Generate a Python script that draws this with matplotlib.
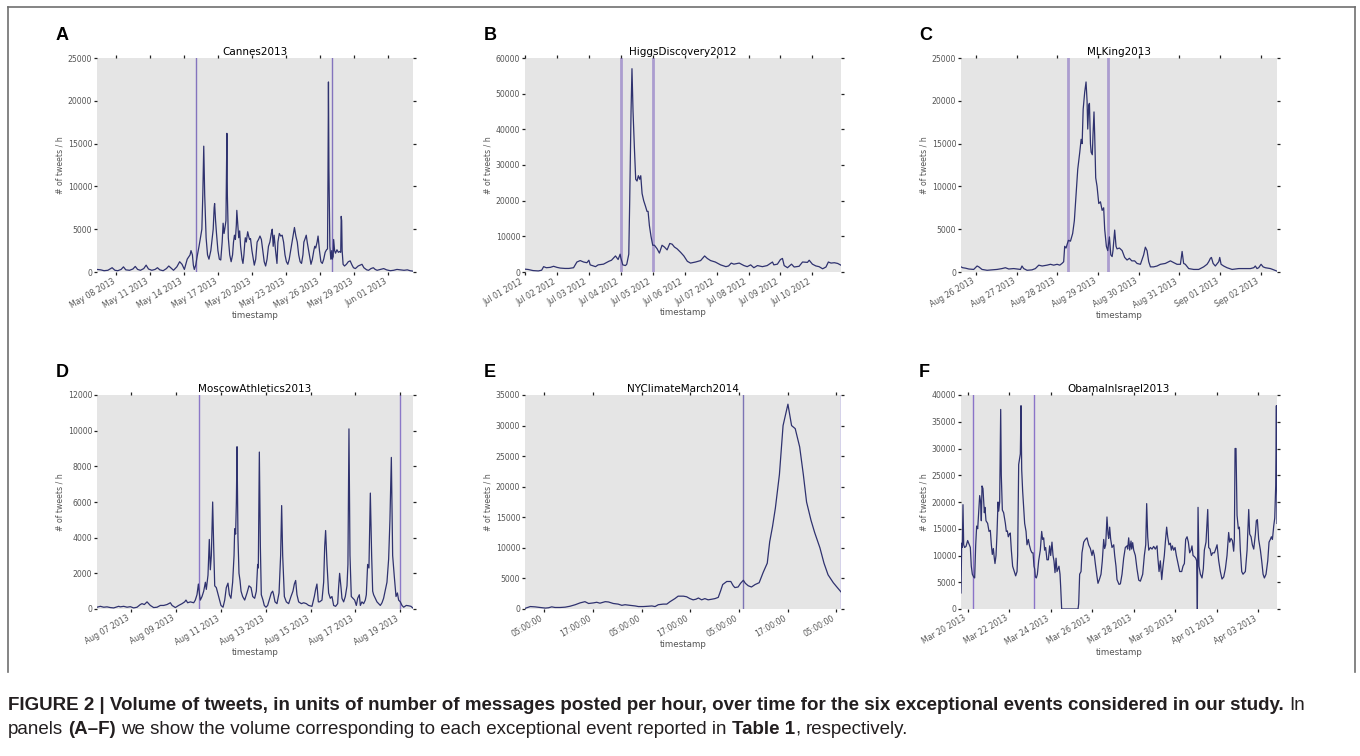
import numpy as np
import pandas as pd
import matplotlib
matplotlib.use('Agg')
import matplotlib.pyplot as plt
import matplotlib.dates as mdates
from matplotlib.lines import Line2D

# ---- data: (hours since start, tweets per hour) ----
# A: Cannes2013, hours since 2013-05-06 00:00
cannes = [(7,300),(15,250),(22,150),(30,200),(39,500),(45,200),(51,150),(58,300),(63,600),(68,250),(76,200),(83,350),(88,650),(93,300),(99,200),(106,400),(111,800),(116,350),(123,200),(130,300),(135,500),(140,250),(147,150),(154,400),(159,700),(164,450),(169,200),(176,600),(182,1200),(187,900),(192,300),(198,1500),(204,2000),(206,2500),(209,2000),(211,800),(213,300),(216,800),(219,1800),(223,3000),(226,4000),(229,5000),(231,9000),(233,14700),(235,9000),(238,4000),(241,2000),(244,1500),(248,2500),(251,4000),(253,5000),(255,7500),(256,8000),(258,6000),(260,4500),(263,2500),(266,1500),(269,1400),(272,3500),(274,5700),(276,4500),(278,5200),(280,6000),(281,11000),(282,16200),(283,9000),(285,4000),(288,2000),(291,1200),(294,2000),(296,3500),(298,4300),(300,3800),(302,5500),(303,7200),(305,5500),(307,4000),(309,4800),(311,3000),(314,1500),(316,1000),(318,2000),(320,3500),(321,4000),(323,3500),(326,4700),(328,4200),(330,3800),(332,3900),(335,2500),(338,1500),(340,800),(343,1500),(346,3500),(349,3800),(352,4200),(355,3800),(358,2500),(361,1200),(364,700),(367,1500),(370,3000),(373,3500),(376,4500),(378,5000),(380,3000),(382,4300),(385,2500),(388,1000),(390,3500),(393,4500),(396,4200),(399,4300),(402,3500),(405,2000),(408,1200),(411,900),(414,1500),(417,2500),(420,3500),(423,4500),(425,5200),(428,4200),(431,3500),(434,2000),(437,1200),(440,1000),(443,2000),(445,3500),(447,3800),(450,4300),(452,3500),(455,2500),(458,1500),(460,900),(463,1500),(466,2500),(468,3000),(470,2800),(473,3500),(475,4200),(478,2500),(481,1200),(484,1000),(487,1500),(490,2300),(493,2600),(495,2700),(496,11000),(497,22200),(498,12000),(500,3000),(502,1500),(504,2500),(505,1500),(507,1800),(508,3800),(510,2500),(512,2200),(515,2600),(518,2300),(521,2400),(523,2300),(524,6500),(525,6000),(526,2500),(528,900),(531,700),(535,900),(539,1200),(543,1300),(547,800),(550,500),(554,400),(560,700),(568,900),(572,500),(578,250),(582,200),(587,400),(592,500),(596,300),(600,200),(607,300),(614,400),(620,250),(628,150),(635,200),(642,300),(650,250),(657,200),(664,250),(670,150),(676,100)]
cannes_events = [216, 504]
cannes_ticks = pd.date_range('2013-05-08', periods=9, freq='3D')

# B: HiggsDiscovery2012, hours since 2012-07-01 00:00
higgs = [(0,800),(2.5,700),(6,400),(10,300),(12.5,500),(14,1500),(16,1200),(19,1300),(21.5,1600),(24,1300),(26.5,1100),(30,1000),(33,1000),(36.5,1200),(39,2800),(41.5,3200),(44,2800),(46.5,2600),(48,3300),(49,2000),(53,1500),(55,2000),(59,2200),(63,3000),(65,3300),(68,4500),(70,3500),(71.5,5000),(72,4000),(73.5,2000),(75.5,1800),(76.5,2200),(78,5000),(78.7,20000),(79.7,45000),(80.4,57000),(81.2,45000),(82.2,35000),(83.2,26000),(84.2,25500),(85.2,27000),(86.2,26000),(87,27000),(88,22000),(89.2,20000),(90.5,18500),(91.7,17000),(92.5,17000),(93.5,13000),(94.7,10000),(96,7500),(97.3,7500),(99.3,6500),(101,5300),(103,7500),(104.8,7000),(106.8,6200),(108.8,8000),(110.6,7800),(112.3,7000),(114.3,6500),(117,5500),(119.4,4500),(122,3000),(124.4,2500),(128.2,2800),(132,3200),(135,4500),(137,3800),(139.5,3200),(143,2800),(147,2000),(151,1500),(153,1700),(155,2500),(157,2200),(161,2500),(164.6,1800),(167,1500),(169.6,2000),(172,1200),(174.7,1800),(178.4,1500),(182,1800),(186,2800),(187,2000),(189.7,2200),(192,3500),(193.5,3800),(194.8,1800),(197.3,1200),(200.3,2200),(202.3,1400),(206,1600),(208.6,2800),(212.3,2700),(213.6,3300),(216,2200),(218.6,1700),(221,1500),(223.7,900),(226.2,1400),(228,2800),(230,2500),(232.5,2600),(235,2400),(237.5,1900)]
higgs_events = [72, 96]
higgs_ticks = pd.date_range('2012-07-01', periods=10, freq='D')

# C: MLKing2013, hours since 2013-08-25 00:00
mlk = [(15.1,600),(16.1,500),(17.7,450),(19.7,350),(22.6,300),(24.6,700),(25.6,600),(27.5,300),(30.5,200),(33.4,250),(36.4,300),(39.3,400),(41.3,500),(43.3,350),(46.2,400),(48.2,350),(50.2,300),(51.1,700),(52.1,400),(54.1,200),(57,250),(59,400),(61,800),(63,700),(65.9,800),(67.9,900),(69.8,800),(71.8,900),(73.4,800),(74.7,1000),(75.7,1200),(76.3,3000),(77.1,2800),(77.7,3200),(78.5,3700),(79.7,3600),(81,4500),(82,6000),(83,9000),(84,12000),(85.2,14000),(86,15500),(86.6,15000),(87.2,19000),(88.1,21000),(88.9,22200),(89.5,20000),(89.9,16700),(90.5,19500),(90.9,19700),(91.5,15000),(91.9,14000),(92.6,13700),(93,16000),(93.6,18700),(94,16000),(94.6,11000),(95.4,10000),(96.4,8000),(97.4,8200),(98.4,7200),(99.3,7500),(99.9,5000),(100.9,3000),(101.7,2500),(102.7,4100),(103.5,2000),(104.3,1800),(104.8,2500),(105.8,4900),(106.6,3000),(107.2,2700),(108.6,2800),(110.2,2500),(111.7,1700),(113.1,1400),(114.5,1600),(115.9,1300),(117.6,1300),(119,1000),(121,900),(122.9,2000),(123.9,2900),(124.9,2500),(125.9,1200),(126.9,600),(128.8,600),(130.8,700),(132.8,900),(135.7,1000),(138.7,1300),(140.6,1100),(142.6,900),(144.6,900),(145.6,2400),(146.5,1000),(147.5,900),(149.5,400),(152.4,300),(155.4,300),(158.3,600),(160.3,900),(161.3,1200),(162.3,1600),(162.9,1700),(163.9,1000),(165.2,700),(167.2,1200),(167.8,1700),(168.6,900),(170.1,700),(172.1,500),(175.1,300),(179,400),(182.9,400),(185.9,400),(187.9,500),(188.8,700),(189.8,400),(190.8,500),(192.2,900),(193.4,600),(194.7,500),(197.7,400),(199.7,250),(201.6,100)]
mlk_events = [78, 102]
mlk_ticks = pd.date_range('2013-08-26', periods=8, freq='D')

# D: MoscowAthletics2013, hours since 2013-08-05 00:00
moscow = [(11.2,100),(14.8,150),(18.4,100),(21.9,120),(25.5,80),(29.1,60),(34.4,150),(36.2,120),(39.8,150),(43.4,100),(46.9,130),(50.5,60),(54.1,100),(57.6,250),(59.4,300),(61.9,250),(64.8,400),(66.6,300),(68.3,200),(71.9,80),(75.5,100),(79.1,200),(82.6,200),(86.2,250),(89.8,350),(91.6,200),(95.1,80),(98.7,200),(102.3,300),(105.1,400),(106.5,500),(108.3,350),(111.2,400),(114.8,350),(116.5,500),(118.3,800),(119.8,1400),(120.8,900),(121.9,500),(123.7,700),(125.5,1000),(127.3,1500),(128.3,1100),(129,1400),(130.1,1900),(131.5,3900),(132.6,2200),(133.7,3000),(135.1,6000),(136.2,3500),(137.3,1300),(139,1200),(140.5,900),(142.6,500),(144,200),(146.2,100),(148,500),(149.7,1200),(151.5,1450),(153,800),(154.7,600),(156.5,1500),(158,3000),(158.7,4500),(159.7,4200),(160.5,6000),(161.2,9100),(162.2,4000),(163.3,2000),(164.4,1600),(165.5,1000),(167.2,700),(169.4,500),(171.9,900),(174,1300),(176.2,1200),(178,700),(180.1,600),(181.9,1000),(183.3,2500),(184,2300),(185.1,8800),(186.2,3500),(187.2,800),(189,500),(190.4,200),(192.2,100),(194,200),(196.2,600),(197.9,900),(199.4,1000),(200.4,800),(201.9,400),(204,300),(206.2,900),(207.9,3000),(209,5800),(210.1,3000),(211.9,700),(214,400),(216.5,300),(219,700),(221.1,1000),(222.6,1400),(224,1600),(225.4,800),(227.2,400),(230.1,300),(232.6,350),(235.4,300),(237.9,200),(241.5,150),(244,700),(245.4,1100),(246.8,1400),(248.3,400),(249.7,400),(252.2,500),(254,1500),(255.1,3500),(256.1,4400),(257.6,2500),(259.3,900),(261.1,600),(262.9,700),(264.7,200),(266.8,150),(269,300),(270,1200),(271.1,2000),(272.6,1200),(273.6,600),(275.4,400),(277.2,700),(279,1300),(280,2500),(281.1,10100),(282.2,3000),(283.6,700),(285.4,600),(287.2,500),(289,200),(290.4,600),(292.2,800),(293.3,200),(295,400),(296.8,300),(298.6,500),(299.7,800),(301.1,2500),(302.5,2300),(304,6500),(305.4,3000),(306.5,1000),(307.5,800),(309.3,600),(311.1,400),(312.9,300),(314.7,200),(316.5,350),(318.2,600),(321.8,1500),(323.6,2800),(325,5000),(326.5,8500),(327.9,3000),(329.7,1800),(331.5,700),(333,900),(334.3,500),(336.1,400),(337.9,200),(339.7,100),(342.5,200),(345,180),(347.5,150),(349.7,50)]
moscow_events = [120, 336]
moscow_ticks = pd.date_range('2013-08-07', periods=7, freq='2D')

# E: NYClimateMarch2014, hours since 2014-09-19 00:00
nyc = [(0.2,100),(1.5,400),(2.7,350),(3.9,250),(5.2,150),(6,200),(6.8,350),(7.6,250),(8.9,250),(10.1,300),(11.3,450),(12.6,700),(13.8,1000),(15,1200),(15.9,900),(17.1,1000),(17.9,1100),(18.7,950),(20,1200),(20.8,1150),(22,900),(23.2,800),(24.1,600),(24.9,700),(26.1,600),(27.4,500),(28.2,400),(29.4,400),(30.6,450),(31.5,500),(32.3,400),(33.1,700),(34.3,800),(35.2,800),(36,1200),(37.2,1700),(38,2100),(39.3,2100),(40.1,2000),(40.9,1700),(41.7,1500),(42.4,1600),(43,1800),(43.8,1500),(44.6,1700),(45.4,1500),(46.3,1600),(47.1,1700),(47.9,1900),(48.5,3000),(49,4000),(50,4500),(51,4500),(51.6,3800),(52,3500),(52.8,3600),(53.4,4200),(54.1,4700),(54.6,4200),(55.3,3800),(56.1,3600),(57,4000),(58,4300),(59,6000),(60,7500),(60.6,11000),(61.3,13500),(62,16500),(63,22000),(63.9,30000),(65.1,33500),(66,30000),(66.9,29500),(68,26500),(68.9,22000),(69.7,17500),(70.8,14500),(71.7,12500),(73,10000),(74,7500),(75,5600),(76.3,4300),(77.3,3500),(78.2,2800)]
nyc_events = [54]
nyc_late = [78.2]
nyc_ticks = pd.date_range('2014-09-19 05:00', periods=7, freq='12h')

# F: ObamaInIsrael2013, hours since 2013-03-19 00:00
obama = [(16.3,3000),(17.1,12300),(17.8,11500),(18.6,19500),(19.4,12000),(20.5,11500),(22.1,11700),(24,12800),(25.9,12000),(27.1,11500),(28.2,8000),(29.4,6500),(30.9,6000),(32.1,5800),(33.3,12000),(34.4,15500),(35.6,15000),(36.7,18000),(37.9,21200),(39,20000),(39.8,16500),(40.6,23000),(41.7,22500),(43.3,18000),(44,19000),(45.2,16500),(47.1,16000),(48.7,14500),(50.2,14700),(51.4,12000),(52.5,10200),(53.7,11300),(54.8,9500),(55.6,8500),(56.8,10000),(57.9,14000),(59.1,20000),(59.9,18300),(61,20000),(62.2,37300),(62.9,25000),(64.1,18500),(65.6,18000),(67.6,16000),(68.7,14500),(69.9,14600),(71,13500),(72.2,14000),(73.3,14200),(74.5,11000),(76,8000),(78,7000),(79.5,6200),(81.1,7000),(81.8,10000),(83,27000),(84.9,29000),(85.7,38000),(86.5,26000),(87.6,22000),(88.8,19000),(89.9,16000),(91.5,14500),(92.6,12000),(94.2,13000),(95.3,12000),(96.9,11000),(98.4,10500),(99.6,10500),(100.7,8000),(101.5,7500),(102.3,6000),(103.4,5800),(104.6,6500),(106.1,9000),(108,11000),(109.6,14500),(110.7,13000),(111.9,13300),(113,11000),(114.2,11500),(115.7,9200),(117.3,9200),(118.8,11800),(120,10000),(121.5,12500),(122.7,10000),(123.8,9000),(125,6800),(126.2,9500),(127.3,7000),(128.5,7500),(129.6,8000),(130.8,6500),(131.6,4000),(132.7,0),(135,0),(138.9,0),(142.7,0),(148.5,0),(151.6,0),(152.4,1000),(153.5,6500),(155.1,7000),(156.2,10500),(158.2,12500),(160.1,13000),(162,13300),(163.9,12000),(165.9,11300),(167.8,10000),(169,11000),(170.5,10000),(171.6,8500),(173.6,6000),(174.7,4800),(176.3,5500),(178.2,6500),(179.7,9000),(181.3,13000),(182.4,11300),(183.6,12000),(185.1,17200),(186.3,14000),(187.1,13200),(188.2,15300),(189.4,13000),(190.9,11500),(192.9,12000),(194,10000),(195.5,8000),(196.7,5500),(199,4600),(200.6,4700),(202.5,6500),(204.4,9500),(206.3,11500),(208.3,11800),(209,11200),(210.2,13300),(211.4,11000),(212.9,12700),(213.7,11200),(214.8,12400),(216,11000),(217.9,10000),(219.8,7500),(221.8,5400),(223.7,5200),(226.4,6500),(228.3,10000),(229.9,12000),(231,19700),(232.2,13500),(233.4,11000),(235.3,11500),(237.2,11200),(239.1,11700),(241,11200),(243,11800),(243.7,10000),(245.3,7000),(246.8,9000),(248.4,5500),(249.9,8000),(251.4,10000),(252.6,12500),(254.1,15300),(255.3,13500),(256.8,12000),(258.4,12300),(259.5,11000),(260.7,11800),(262.2,11000),(263.8,11500),(265.3,10000),(267.2,8500),(269.2,7000),(271.5,7000),(273,8000),(274.6,8500),(276.1,13000),(277.7,13500),(279.2,12500),(280.7,10500),(282.3,11000),(283.4,11800),(284.6,10000),(286.1,9800),(287.7,9500),(288.8,9000),(289.6,0),(290.4,19000),(291.5,8000),(293.1,6500),(295,5800),(296.5,7500),(297.7,11000),(299.6,12500),(301.6,18600),(302.7,11500),(304.3,11200),(305.8,10000),(307.3,10500),(309.3,10500),(310.4,11000),(312.4,12000),(314.3,9000),(316.2,7000),(318.1,5600),(320.1,6000),(322,7500),(323.9,10000),(325.8,14300),(327,12500),(328.5,13200),(330.1,12800),(331.6,10800),(332.4,13000),(333.2,30000),(334.3,30000),(335.5,17500),(337,15000),(338.2,15300),(339.3,11000),(340.9,7000),(342.4,6500),(344,6800),(345.1,7000),(347.1,11000),(349,18600),(350.1,14000),(351.7,13500),(353.2,12000),(354.8,11200),(356.7,14000),(357.8,16500),(359,16700),(360.5,13000),(362.5,11000),(364,9000),(365.6,6500),(367.1,5800),(369,6500),(371,9000),(372.5,12500),(374,13000),(375.2,13500),(376.4,13000),(377.9,15500),(379.1,17000),(380.2,23000),(381,38000),(381.7,16000)]
obama_events = [30, 101]
obama_ticks = pd.date_range('2013-03-20', periods=8, freq='2D')

caption1 = [("FIGURE 2 | Volume of tweets, in units of number of messages posted per hour, "
             "over time for the six exceptional events considered in our study.", 'bold'), ("In", 'normal')]
caption2 = [("panels", 'normal'), ("(A\u2013F)", 'bold'),
            ("we show the volume corresponding to each exceptional event reported in", 'normal'),
            ("Table 1", 'bold'), (",", 'normal'), ("respectively.", 'normal')]

W, H = 1360, 756
LINE = '#2f326f'
fig = plt.figure(figsize=(W / 100, H / 100), dpi=100)


def panel(px, py, letter, lpos, title, start, data, events, ev_color, ev_lw,
          ticks, fmt, ymax, ystep):
    # px, py: left / top of the axes in pixels
    ax = fig.add_axes([px / W, 1 - (py + 214) / H, 316 / W, 214 / H])
    t0 = pd.Timestamp(start)
    hrs = np.array([d[0] for d in data])
    vals = np.array([d[1] for d in data])
    times = t0 + pd.to_timedelta(hrs, unit='h')
    ax.set_facecolor('#e5e5e5')
    for s in ax.spines.values():
        s.set_visible(False)
    for h in events:
        ax.axvline(t0 + pd.Timedelta(hours=h), color=ev_color, lw=ev_lw, zorder=1)
    ax.plot(times, vals, color=LINE, lw=0.9, zorder=2)
    ax.set_xlim(times[0], times[-1])
    ax.set_ylim(0, ymax)
    ax.set_yticks(np.arange(0, ymax + 1, ystep))
    ax.set_xticks(ticks)
    ax.xaxis.set_major_formatter(mdates.DateFormatter(fmt))
    ax.tick_params(direction='out', length=2, width=0.9, color='#222222',
                   labelsize=5.6, labelcolor='#555555', pad=1.5,
                   top=True, right=True)
    for lab in ax.get_xticklabels():
        lab.set_rotation(30)
        lab.set_ha('right')
    ax.set_title(title, fontsize=7.5, pad=2)
    ax.set_ylabel('# of tweets / h', fontsize=5.6, color='#555555', labelpad=2)
    ax.set_xlabel('timestamp', fontsize=6.3, color='#555555', labelpad=1)
    fig.text(lpos[0] / W, 1 - lpos[1] / H, letter, fontsize=13, weight='bold',
             family='Liberation Sans', va='baseline')
    return ax, t0


panel(97, 58, 'A', (56, 40), 'Cannes2013', '2013-05-06', cannes, cannes_events,
      '#8474bd', 1.0, cannes_ticks, '%b %d %Y', 25000, 5000)
panel(525, 58, 'B', (484, 40), 'HiggsDiscovery2012', '2012-07-01', higgs, higgs_events,
      '#ab9dcf', 2.0, higgs_ticks, '%b %d %Y', 60000, 10000)
panel(961, 58, 'C', (919, 40), 'MLKing2013', '2013-08-25', mlk, mlk_events,
      '#ab9dcf', 2.0, mlk_ticks, '%b %d %Y', 25000, 5000)
panel(97, 395, 'D', (56, 377), 'MoscowAthletics2013', '2013-08-05', moscow, moscow_events,
      '#8b78c8', 1.0, moscow_ticks, '%b %d %Y', 12000, 2000)
axe, te = panel(525, 395, 'E', (484, 377), 'NYClimateMarch2014', '2014-09-19', nyc, nyc_events,
                '#7c74b4', 1.0, nyc_ticks, '%H:%M:%S', 35000, 5000)
for h in nyc_late:
    axe.axvline(te + pd.Timedelta(hours=h), color='#d4d0ea', lw=2.0, zorder=1)
panel(961, 395, 'F', (919, 377), 'ObamaInIsrael2013', '2013-03-19', obama, obama_events,
      '#8a74c8', 1.0, obama_ticks, '%b %d %Y', 40000, 5000)

# frame around the figure panels
fc = '#707070'
for xs, ys in [((7.5, 7.5), (6.5, 672)), ((1354.5, 1354.5), (6.5, 672)),
               ((7.5, 1354.5), (6.5, 6.5))]:
    fig.add_artist(Line2D([x / W for x in xs], [1 - y / H for y in ys],
                          color=fc, lw=1.2))

# caption, written run by run
fig.canvas.draw()
rend = fig.canvas.get_renderer()


def text_w(s, size, weight):
    t = fig.text(0, 0, s, fontsize=size, weight=weight, family='Liberation Sans')
    w = t.get_window_extent(rend).width
    t.remove()
    return w


full1 = sum(text_w(s, 10, w) for s, w in caption1) + text_w('a a', 10, 'normal') - text_w('aa', 10, 'normal')
size = 10 * 1300 / full1
space = text_w('a a', size, 'normal') - text_w('aa', size, 'normal')


def runs(y, parts, x0=8):
    x = x0
    for i, (s, w) in enumerate(parts):
        if i > 0 and s != ',':
            x += space
        t = fig.text(x / W, 1 - y / H, s, fontsize=size, weight=w,
                     family='Liberation Sans', color='#231f20', va='baseline')
        x += t.get_window_extent(rend).width


runs(710, caption1)
runs(734, caption2)

fig.savefig('out.png', dpi=100)
